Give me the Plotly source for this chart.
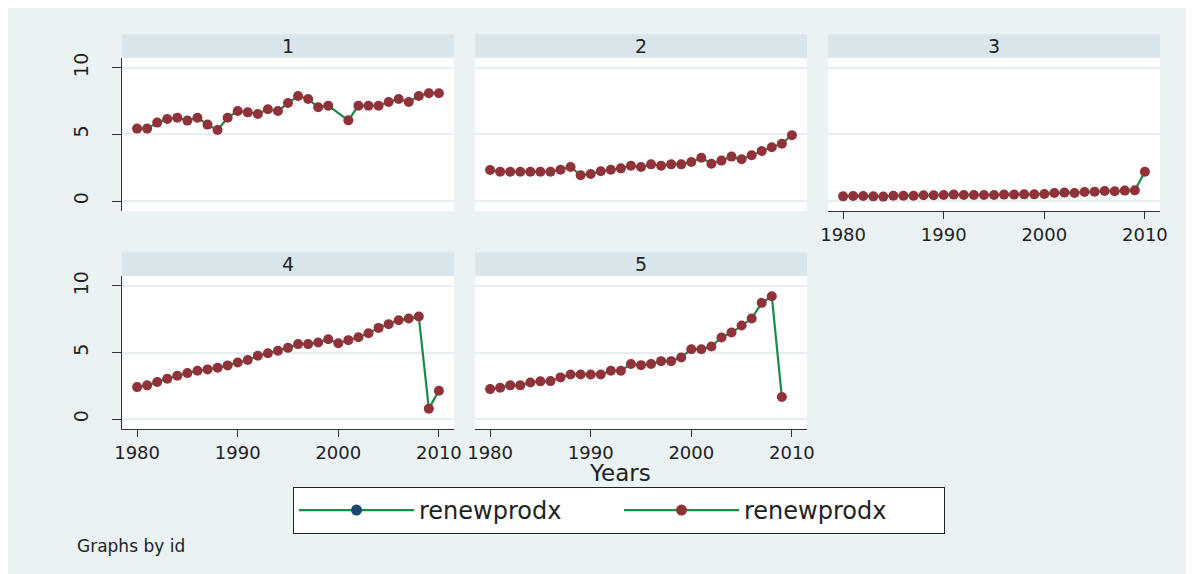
import plotly.graph_objects as go

years = list(range(1980, 2011))

# renewprodx by id
id1 = [5.43, 5.43, 5.88, 6.15, 6.25, 6.03, 6.25, 5.73, 5.33, 6.25,
       6.75, 6.65, 6.53, 6.88, 6.75, 7.35, 7.88, 7.65, 7.03, 7.15,
       None, 6.05, 7.15, 7.15, 7.15, 7.43, 7.65, 7.43, 7.88, 8.08, 8.08]
id2 = [2.33, 2.2, 2.2, 2.2, 2.2, 2.2, 2.2, 2.35, 2.55, 1.93,
       2.03, 2.23, 2.35, 2.45, 2.65, 2.55, 2.75, 2.65, 2.75, 2.75,
       2.93, 3.25, 2.8, 3.03, 3.33, 3.13, 3.43, 3.75, 4.03, 4.3, 4.93]
id3 = [0.35, 0.38, 0.38, 0.35, 0.33, 0.4, 0.4, 0.4, 0.43, 0.43,
       0.45, 0.48, 0.45, 0.45, 0.45, 0.45, 0.48, 0.48, 0.5, 0.5,
       0.53, 0.6, 0.63, 0.6, 0.68, 0.7, 0.75, 0.73, 0.78, 0.8, 2.2]
id4 = [2.4, 2.53, 2.78, 3.03, 3.25, 3.45, 3.63, 3.73, 3.85, 4.03,
       4.25, 4.43, 4.75, 4.95, 5.13, 5.35, 5.63, 5.63, 5.75, 6.0,
       5.7, 5.93, 6.15, 6.45, 6.85, 7.13, 7.43, 7.55, 7.7, 0.78, 2.13]
id5 = [2.25, 2.35, 2.53, 2.53, 2.75, 2.83, 2.85, 3.13, 3.35, 3.35,
       3.35, 3.35, 3.63, 3.63, 4.13, 4.05, 4.13, 4.35, 4.35, 4.63,
       5.25, 5.25, 5.45, 6.13, 6.5, 7.03, 7.55, 8.73, 9.23, 1.65]

panels = ["1", "2", "3", "4", "5"]
series = [id1, id2, id3, id4, id5]
x_ticks = [1980, 1990, 2000, 2010]
y_ticks = [0, 5, 10]

W, H = 1194, 574
OFF = 8  # page body margin, the figure starts 8px in
BG = "#EAF2F3"
STRIP = "#D8E6EC"
GRID = "#E6EEF1"
LINE = "#1A8A48"
MAROON = "#90323A"
NAVY = "#1A476F"
FONT = "DejaVu Sans"
TXT = "#222222"

# panel boxes in screen pixels: (left, right), (top, bottom)
cols_px = [(122, 454), (475, 807), (828, 1160)]
rows_px = [(57.7, 211), (276, 429)]
slots = [(0, 0), (0, 1), (0, 2), (1, 0), (1, 1)]
strip_h = 23.5


def fx(px):
    return (px - OFF) / W


def fy(px):
    return 1 - (px - OFF) / H


fig = go.Figure()
shapes = []
annotations = []

for i, (name, vals) in enumerate(zip(panels, series)):
    r, c = slots[i]
    l, rr = cols_px[c]
    t, b = rows_px[r]
    n = "" if i == 0 else str(i + 1)
    show_x = i in (2, 3, 4)
    show_y = c == 0
    fig.add_trace(go.Scatter(
        x=years[:len(vals)], y=vals, mode="lines+markers", connectgaps=True,
        line=dict(color=LINE, width=2.2),
        marker=dict(color=MAROON, size=10),
        name="renewprodx", showlegend=False,
        xaxis="x" + n, yaxis="y" + n,
    ))
    fig.layout["xaxis" + n] = dict(
        domain=[fx(l), fx(rr)], anchor="y" + n, range=[1978.5, 2011.5],
        tickvals=x_ticks, showgrid=False, zeroline=False, automargin=False,
        showline=show_x, linecolor="#333333", linewidth=1.3,
        ticks="outside" if show_x else "", ticklen=7, tickcolor="#333333",
        showticklabels=show_x, tickfont=dict(family=FONT, size=18, color=TXT),
    )
    fig.layout["yaxis" + n] = dict(
        domain=[fy(b), fy(t)], anchor="x" + n, range=[-0.75, 10.75],
        tickvals=y_ticks, showgrid=True, gridcolor=GRID, gridwidth=2, zeroline=False,
        automargin=False,
        showline=show_y, linecolor="#333333", linewidth=1.3,
        ticks="outside" if show_y else "", ticklen=9, tickcolor="#333333",
        showticklabels=show_y, tickangle=-90, ticklabelstandoff=16,
        tickfont=dict(family=FONT, size=19, color=TXT),
    )
    shapes.append(dict(type="rect", xref="paper", yref="paper",
                       x0=fx(l), x1=fx(rr), y0=fy(t), y1=fy(t - strip_h),
                       fillcolor=STRIP, line_width=0, layer="below"))
    annotations.append(dict(xref="paper", yref="paper", x=fx((l + rr) / 2), y=fy(t - strip_h / 2),
                            text=name, showarrow=False, xanchor="center", yanchor="middle",
                            font=dict(family=FONT, size=19, color=TXT)))

# legend entries (both named renewprodx in the original)
fig.add_trace(go.Scatter(x=[None], y=[None], mode="lines+markers", name="renewprodx",
                         line=dict(color=LINE, width=2.2), marker=dict(color=NAVY, size=11),
                         xaxis="x", yaxis="y"))
fig.add_trace(go.Scatter(x=[None], y=[None], mode="lines+markers", name="renewprodx",
                         line=dict(color=LINE, width=2.2), marker=dict(color=MAROON, size=11),
                         xaxis="x", yaxis="y"))

annotations.append(dict(xref="paper", yref="paper", x=fx(620), y=fy(473), text="Years",
                        showarrow=False, xanchor="center", yanchor="middle",
                        font=dict(family=FONT, size=23, color=TXT)))
annotations.append(dict(xref="paper", yref="paper", x=fx(75), y=fy(546), text="Graphs by id",
                        showarrow=False, xanchor="left", yanchor="middle",
                        font=dict(family=FONT, size=17, color=TXT)))

fig.update_layout(
    width=W, height=H,
    margin=dict(l=0, r=0, t=0, b=0, autoexpand=False),
    paper_bgcolor=BG, plot_bgcolor="white",
    shapes=shapes, annotations=annotations,
    showlegend=True,
    legend=dict(orientation="h", x=fx(619), xanchor="center", y=fy(487), yanchor="top",
                bgcolor="white", bordercolor="#222222", borderwidth=1,
                font=dict(family=FONT, size=24, color=TXT),
                itemwidth=115, entrywidth=195, tracegroupgap=0),
)

fig.write_html("out.html")
